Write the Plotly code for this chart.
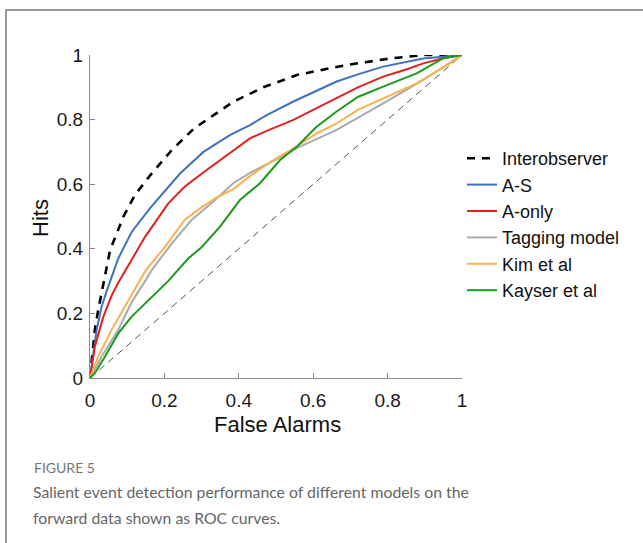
import plotly.graph_objects as go

# ---- data ----
inter_x = [0, 0.005, 0.013, 0.022, 0.035, 0.054, 0.09, 0.121, 0.165, 0.22, 0.28, 0.327, 0.385, 0.466, 0.556, 0.645, 0.69, 0.806, 0.896, 1.0]
inter_y = [0, 0.056, 0.149, 0.21, 0.29, 0.396, 0.50, 0.567, 0.632, 0.706, 0.773, 0.809, 0.855, 0.90, 0.938, 0.959, 0.969, 0.989, 1.0, 1.0]

as_x = [0, 0.009, 0.018, 0.031, 0.045, 0.076, 0.112, 0.161, 0.21, 0.242, 0.305, 0.376, 0.43, 0.475, 0.547, 0.6, 0.663, 0.72, 0.788, 0.896, 1.0]
as_y = [0, 0.08, 0.15, 0.22, 0.27, 0.37, 0.452, 0.525, 0.59, 0.633, 0.70, 0.752, 0.783, 0.814, 0.856, 0.885, 0.918, 0.94, 0.964, 0.989, 1.0]

aonly_x = [0, 0.013, 0.036, 0.058, 0.076, 0.103, 0.148, 0.21, 0.255, 0.309, 0.367, 0.43, 0.475, 0.547, 0.6, 0.663, 0.72, 0.788, 0.85, 0.896, 0.95, 1.0]
aonly_y = [0, 0.097, 0.19, 0.255, 0.295, 0.35, 0.437, 0.54, 0.593, 0.64, 0.69, 0.742, 0.765, 0.799, 0.83, 0.866, 0.9, 0.933, 0.955, 0.974, 0.99, 1.0]

tag_x = [0, 0.031, 0.076, 0.112, 0.148, 0.166, 0.22, 0.273, 0.331, 0.385, 0.43, 0.493, 0.556, 0.663, 0.788, 0.896, 1.0]
tag_y = [0, 0.066, 0.149, 0.235, 0.30, 0.334, 0.417, 0.489, 0.546, 0.603, 0.635, 0.672, 0.712, 0.768, 0.85, 0.923, 1.0]

kim_x = [0, 0.022, 0.058, 0.094, 0.13, 0.148, 0.202, 0.255, 0.296, 0.336, 0.385, 0.43, 0.493, 0.547, 0.609, 0.663, 0.72, 0.788, 0.878, 0.968, 1.0]
kim_y = [0, 0.066, 0.149, 0.221, 0.29, 0.33, 0.407, 0.49, 0.525, 0.556, 0.585, 0.625, 0.675, 0.711, 0.757, 0.788, 0.83, 0.866, 0.912, 0.974, 1.0]

kay_x = [0, 0.013, 0.04, 0.076, 0.112, 0.166, 0.21, 0.264, 0.30, 0.349, 0.403, 0.457, 0.511, 0.556, 0.609, 0.663, 0.72, 0.788, 0.878, 0.95, 1.0]
kay_y = [0, 0.015, 0.066, 0.138, 0.19, 0.252, 0.30, 0.37, 0.405, 0.468, 0.551, 0.603, 0.675, 0.716, 0.778, 0.825, 0.87, 0.902, 0.943, 0.99, 1.0]

chance_x = [0, 1]
chance_y = [0, 1]

tick_vals = [0, 0.2, 0.4, 0.6, 0.8, 1]
tick_text = ["0", "0.2", "0.4", "0.6", "0.8", "1"]

W, H = 643, 543
L, R, T, B = 90, 462, 55, 378  # plot area pixels


def px(x):
    return (x - L) / (R - L)


def py(y):
    return (B - y) / (B - T)


fig = go.Figure()
fig.add_trace(go.Scatter(x=chance_x, y=chance_y, mode="lines", showlegend=False,
                         line=dict(color="#555555", width=1, dash="7px,5px"), cliponaxis=False))

series = [
    ("Interobserver", inter_x, inter_y, "#000000", 2.6, "8px,7px"),
    ("A-S", as_x, as_y, "#3f72bd", 2, "solid"),
    ("A-only", aonly_x, aonly_y, "#e0211f", 2, "solid"),
    ("Tagging model", tag_x, tag_y, "#aaaaaa", 2, "solid"),
    ("Kim et al", kim_x, kim_y, "#f9b24f", 2, "solid"),
    ("Kayser et al", kay_x, kay_y, "#1c9a1c", 2, "solid"),
]
for i, (name, xs, ys, c, w, d) in enumerate(series):
    fig.add_trace(go.Scatter(x=xs, y=ys, mode="lines", name=name, legendgroup=f"g{i}",
                             line=dict(color=c, width=w, dash=d), cliponaxis=False))

axis_common = dict(range=[0, 1], tickvals=tick_vals, ticktext=tick_text, ticks="inside",
                   ticklen=5, tickcolor="#8c8c8c", showline=True, linecolor="#8c8c8c",
                   linewidth=1, showgrid=False, zeroline=False, mirror=False,
                   tickfont=dict(family="Liberation Sans", size=19, color="#1a1a1a"))
fig.update_xaxes(**axis_common, ticklabelstandoff=5)
fig.update_yaxes(**axis_common, ticklabelstandoff=2)


def ann(text, x, y, size, color, family="Liberation Sans", xanchor="center", angle=0):
    return dict(text=text, x=px(x), y=py(y), xref="paper", yref="paper", showarrow=False,
                xanchor=xanchor, yanchor="middle", textangle=angle,
                font=dict(family=family, size=size, color=color))


fig.update_layout(
    width=W, height=H,
    margin=dict(l=L, r=W - R, t=T, b=H - B, autoexpand=False),
    paper_bgcolor="white", plot_bgcolor="white",
    legend=dict(x=px(462), y=py(140), xanchor="left", yanchor="top",
                font=dict(family="Liberation Sans", size=18, color="#111111"),
                traceorder="grouped", tracegroupgap=0, bgcolor="rgba(0,0,0,0)",
                itemwidth=30),
    annotations=[
        ann("Hits", 40, 218, 22, "#111111", angle=-90),
        ann("False Alarms", 277, 425, 22, "#111111"),
        ann("FIGURE 5", 32, 467, 14, "#777777", family="Lato", xanchor="left"),
        ann("Salient event detection performance of different models on the", 31, 491, 15.8,
            "#666666", family="Lato", xanchor="left"),
        ann("forward data shown as ROC curves.", 31, 517, 15.8, "#666666", family="Lato",
            xanchor="left"),
    ],
    shapes=[
        dict(type="path", xref="paper", yref="paper",
             path=f"M {px(6)} {py(560)} L {px(6)} {py(10)} L {px(660)} {py(10)}",
             line=dict(color="#777777", width=1.5)),
    ],
)

fig.write_html("out.html", config={"displayModeBar": False},
               post_script="document.body.style.margin='0';")
